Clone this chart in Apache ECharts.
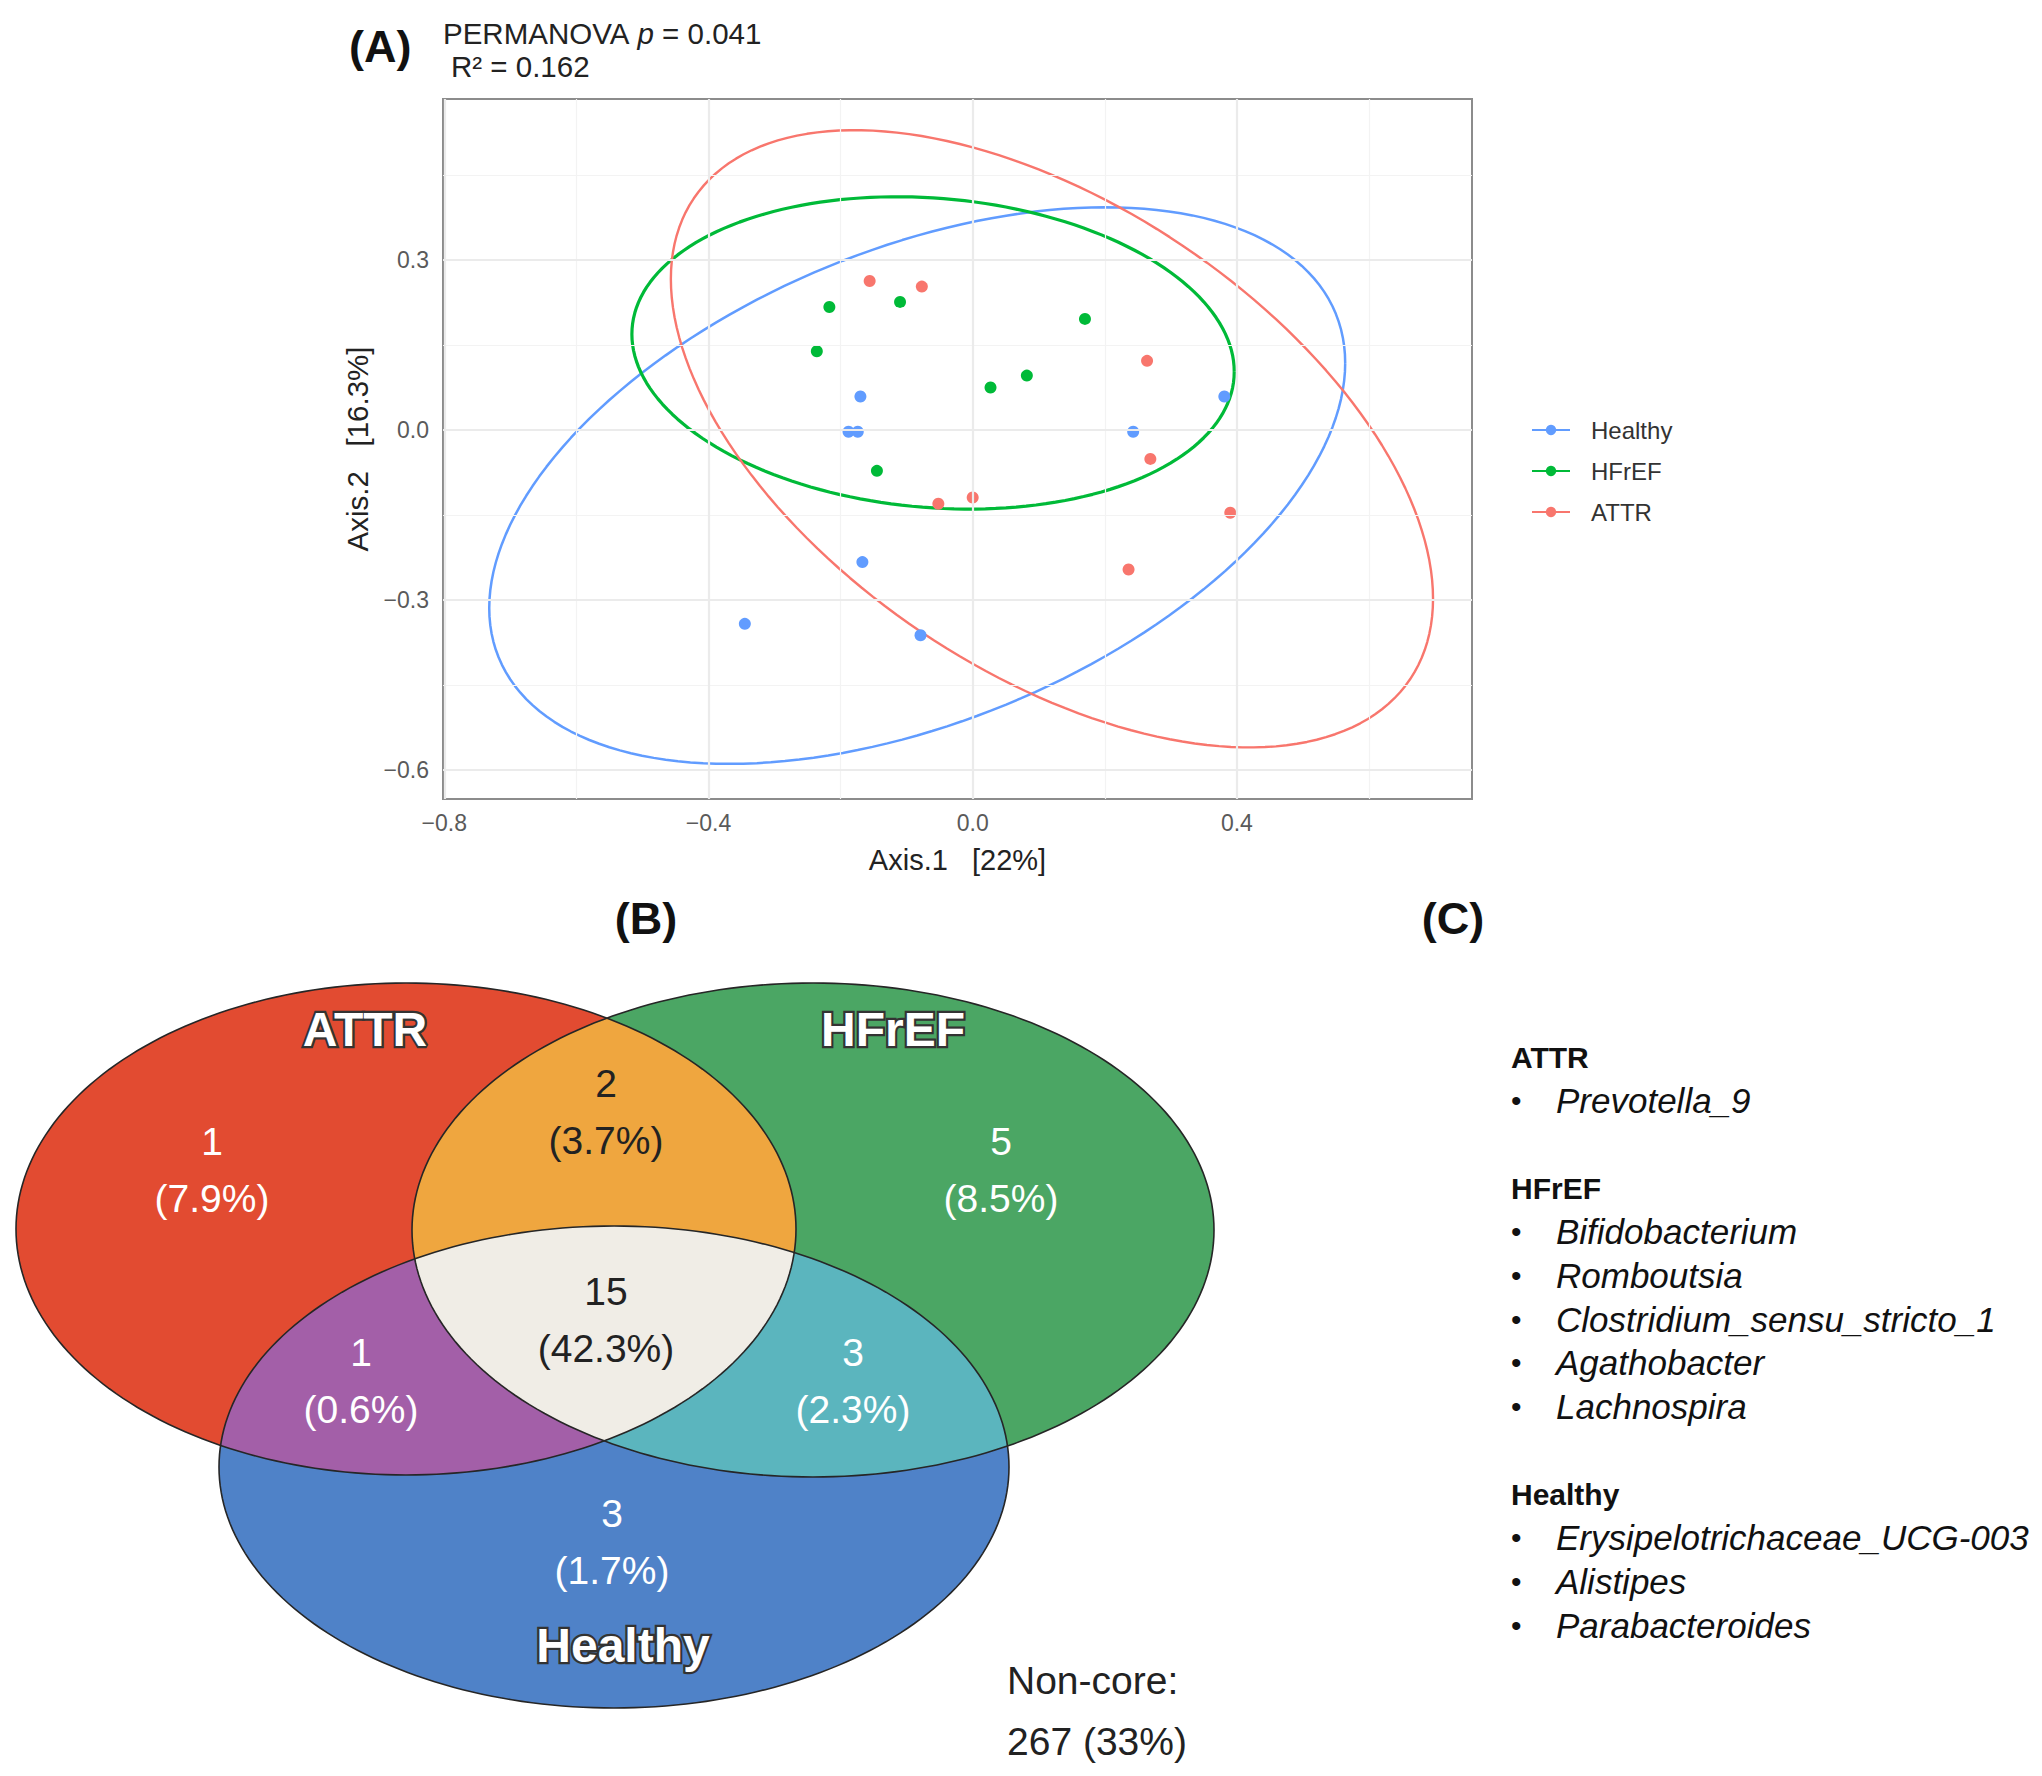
<!DOCTYPE html>
<html><head><meta charset="utf-8">
<script src="https://cdn.jsdelivr.net/npm/echarts@6/dist/echarts.min.js"></script>
<style>html,body{margin:0;padding:0;background:#fff}#c{width:2042px;height:1776px}</style>
</head><body><div id="c"></div>
<script>
// ---------- Panel A: PCoA data ----------
const groups = ['Healthy', 'HFrEF', 'ATTR'];
const groupColors = ['#619CFF', '#00BA38', '#F8766D'];
const healthyX = [-0.170, -0.188, -0.174, 0.243, 0.381, -0.167, -0.345, -0.079];
const healthyY = [0.059, -0.003, -0.003, -0.003, 0.059, -0.233, -0.342, -0.362];
const hfrefX = [-0.217, -0.110, -0.236, 0.170, 0.082, 0.027, -0.145];
const hfrefY = [0.217, 0.226, 0.139, 0.196, 0.096, 0.075, -0.072];
const attrX = [-0.156, -0.077, 0.264, 0.269, -0.052, 0.000, 0.390, 0.236];
const attrY = [0.263, 0.253, 0.122, -0.051, -0.130, -0.119, -0.146, -0.246];
// confidence ellipses (centre, half extents, correlation)
const ellipseCenterX = [-0.084, -0.060, 0.120];
const ellipseCenterY = [-0.098, 0.136, -0.0155];
const ellipseHalfWidth = [0.648, 0.456, 0.577];
const ellipseHalfHeight = [0.491, 0.2755, 0.5445];
const ellipseCorr = [0.44, -0.12, -0.518];
const xTicks = [-0.8, -0.4, 0.0, 0.4];
const xMinor = [-0.6, -0.2, 0.2, 0.6];
const yTicks = [-0.6, -0.3, 0.0, 0.3];
const yMinor = [-0.45, -0.15, 0.15, 0.45];
const permanovaP = '0.041';
const permanovaR2 = '0.162';
const axis1Label = 'Axis.1   [22%]';
const axis2Label = 'Axis.2   [16.3%]';

// ---------- Panel B: Venn data ----------
const vennSets = ['ATTR', 'HFrEF', 'Healthy'];
const vennRegionNames = ['ATTR only', 'ATTR & HFrEF', 'HFrEF only', 'All three', 'ATTR & Healthy', 'HFrEF & Healthy', 'Healthy only'];
const vennCounts = [1, 2, 5, 15, 1, 3, 3];
const vennPercents = ['7.9%', '3.7%', '8.5%', '42.3%', '0.6%', '2.3%', '1.7%'];
const nonCoreCount = 267;
const nonCorePercent = '33%';

// ---------- Panel C: unique genera ----------
const uniqueATTR = ['Prevotella_9'];
const uniqueHFrEF = ['Bifidobacterium', 'Romboutsia', 'Clostridium_sensu_stricto_1', 'Agathobacter', 'Lachnospira'];
const uniqueHealthy = ['Erysipelotrichaceae_UCG-003', 'Alistipes', 'Parabacteroides'];

// ---------- layout (not data) ----------
const FONT = '"Liberation Sans", Arial, Helvetica, sans-serif';
const vennEllipses = [
  { cx: 406, cy: 269, rx: 390, ry: 246 },
  { cx: 813, cy: 270, rx: 401, ry: 247 },
  { cx: 614, cy: 507, rx: 395, ry: 241 }
];
const vennSetFill = ['#E24B31', '#4BA664', '#4F82C8'];
const vennPairFill = { rg: '#EFA63F', rb: '#A35FA8', gb: '#5BB5BE', rgb: '#F0EDE6' };
const vennRegionCenters = [[212, 210], [606, 152], [1001, 210], [606, 360], [361, 421], [853, 421], [612, 582]];
const vennRegionTextColors = ['#ffffff', '#222222', '#ffffff', '#222222', '#ffffff', '#ffffff', '#ffffff'];
const vennSetLabelPos = [[365, 69], [893, 69], [623, 685]];

const pointsX = [healthyX, hfrefX, attrX];
const pointsY = [healthyY, hfrefY, attrY];

function ellipseOutline(g) {
  const pts = [];
  const r = ellipseCorr[g], s = Math.sqrt(1 - r * r);
  for (let d = 0; d <= 360; d += 2) {
    const t = d * Math.PI / 180;
    pts.push([
      ellipseCenterX[g] + ellipseHalfWidth[g] * Math.cos(t),
      ellipseCenterY[g] + ellipseHalfHeight[g] * (r * Math.cos(t) + s * Math.sin(t))
    ]);
  }
  return pts;
}

function vennPoly(e) {
  const pts = [];
  for (let d = 0; d < 360; d += 1.5) {
    const t = d * Math.PI / 180;
    pts.push([e.cx + e.rx * Math.cos(t), e.cy + e.ry * Math.sin(t)]);
  }
  return pts;
}
function clipPoly(subject, clip) {
  let area = 0;
  for (let i = 0; i < clip.length; i++) {
    const a = clip[i], b = clip[(i + 1) % clip.length];
    area += a[0] * b[1] - b[0] * a[1];
  }
  const sgn = area > 0 ? 1 : -1;
  let out = subject;
  for (let i = 0; i < clip.length; i++) {
    const A = clip[i], B = clip[(i + 1) % clip.length];
    const inside = p => sgn * ((B[0] - A[0]) * (p[1] - A[1]) - (B[1] - A[1]) * (p[0] - A[0])) >= 0;
    const inter = (p, q) => {
      const x1 = p[0], y1 = p[1], x2 = q[0], y2 = q[1];
      const x3 = A[0], y3 = A[1], x4 = B[0], y4 = B[1];
      const den = (x1 - x2) * (y3 - y4) - (y1 - y2) * (x3 - x4);
      const t = ((x1 - x3) * (y3 - y4) - (y1 - y3) * (x3 - x4)) / den;
      return [x1 + t * (x2 - x1), y1 + t * (y2 - y1)];
    };
    const input = out; out = [];
    if (!input.length) break;
    for (let j = 0; j < input.length; j++) {
      const P = input[j], Q = input[(j + 1) % input.length];
      const pin = inside(P), qin = inside(Q);
      if (pin) { out.push(P); if (!qin) out.push(inter(P, Q)); }
      else if (qin) { out.push(inter(P, Q)); }
    }
  }
  return out;
}
const ER = vennPoly(vennEllipses[0]), EG = vennPoly(vennEllipses[1]), EB = vennPoly(vennEllipses[2]);
const RG = clipPoly(ER, EG), RB = clipPoly(ER, EB), GB = clipPoly(EG, EB), RGB = clipPoly(RG, EB);
const vennLayers = [
  { poly: ER, fill: vennSetFill[0] }, { poly: EG, fill: vennSetFill[1] }, { poly: EB, fill: vennSetFill[2] },
  { poly: RG, fill: vennPairFill.rg }, { poly: RB, fill: vennPairFill.rb }, { poly: GB, fill: vennPairFill.gb },
  { poly: RGB, fill: vennPairFill.rgb },
  { poly: ER, fill: null }, { poly: EG, fill: null }, { poly: EB, fill: null }
];

const fmtTick = v => (v < 0 ? '\u2212' : '') + Math.abs(v).toFixed(1);

const series = [];
// grid lines
series.push({
  type: 'scatter', name: '_grid', xAxisIndex: 0, yAxisIndex: 0, data: [], silent: true, z: 1,
  markLine: {
    silent: true, symbol: ['none', 'none'], label: { show: false }, animation: false,
    emphasis: { disabled: true },
    data: [].concat(
      xMinor.map(v => ({ xAxis: v, lineStyle: { color: '#F3F3F3', width: 1.2, type: 'solid' } })),
      yMinor.map(v => ({ yAxis: v, lineStyle: { color: '#F3F3F3', width: 1.2, type: 'solid' } })),
      xTicks.map(v => ({ xAxis: v, lineStyle: { color: '#EBEBEB', width: 2.2, type: 'solid' } })),
      yTicks.map(v => ({ yAxis: v, lineStyle: { color: '#EBEBEB', width: 2.2, type: 'solid' } }))
    )
  }
});
const lineWidths = [2.5, 3.2, 2.4];
groups.forEach((g, i) => {
  series.push({
    type: 'line', name: g, xAxisIndex: 0, yAxisIndex: 0, data: ellipseOutline(i),
    symbol: 'circle', symbolSize: 12, showSymbol: false, smooth: false, z: 2,
    lineStyle: { color: groupColors[i], width: lineWidths[i] }, itemStyle: { color: groupColors[i] },
    silent: true
  });
});
groups.forEach((g, i) => {
  series.push({
    type: 'scatter', name: g, xAxisIndex: 0, yAxisIndex: 0, z: 3,
    data: pointsX[i].map((x, k) => [x, pointsY[i][k]]),
    symbol: 'circle', symbolSize: 12, itemStyle: { color: groupColors[i], opacity: 1 }
  });
});
// Venn regions
series.push({
  type: 'custom', name: '_venn', coordinateSystem: 'cartesian2d', xAxisIndex: 1, yAxisIndex: 1,
  data: vennLayers.map((l, i) => [i, 0]), silent: true, z: 2,
  renderItem: function (params, api) {
    const l = vennLayers[params.dataIndex];
    const pts = l.poly.map(p => api.coord(p));
    return {
      type: 'polygon', shape: { points: pts },
      style: l.fill ? { fill: l.fill, stroke: null } : { fill: 'none', stroke: '#262626', lineWidth: 1.6 }
    };
  }
});
// Venn region labels
series.push({
  type: 'scatter', name: '_vennLabels', xAxisIndex: 1, yAxisIndex: 1, z: 5, silent: true,
  symbolSize: 1, itemStyle: { color: 'rgba(0,0,0,0)', opacity: 1 },
  data: vennRegionCenters.map((p, i) => ({
    value: p,
    label: {
      show: true, position: 'inside',
      formatter: vennCounts[i] + '\n(' + vennPercents[i] + ')',
      color: vennRegionTextColors[i], fontSize: 39, lineHeight: 57, fontFamily: FONT, align: 'center',
      textBorderWidth: 0, opacity: 1
    }
  }))
});
// set names: dark outline layer, then white fill layer on top
[{ z: 5, color: '#333333', border: 4.5 }, { z: 6, color: '#ffffff', border: 0 }].forEach(layer => {
  series.push({
    type: 'scatter', name: '_vennSets' + layer.z, xAxisIndex: 1, yAxisIndex: 1, z: layer.z, silent: true,
    symbolSize: 1, itemStyle: { color: 'rgba(0,0,0,0)', opacity: 1 },
    data: vennSetLabelPos.map((p, i) => ({
      value: p,
      label: {
        show: true, position: 'inside', formatter: vennSets[i], opacity: 1,
        color: layer.color, fontSize: 48, fontWeight: 'bold', fontFamily: FONT,
        textBorderColor: '#333333', textBorderWidth: layer.border
      }
    }))
  });
});

// text graphics
const graphics = [];
function addText(x, y, text, opts) {
  graphics.push({
    type: 'text', x: x, y: y, silent: true, z: 10,
    style: Object.assign({
      text: text, fill: '#111', fontFamily: FONT, fontSize: 30,
      textAlign: 'left', align: 'left', textVerticalAlign: 'middle', verticalAlign: 'middle'
    }, opts || {})
  });
}
addText(349, 46, '(A)', { fontSize: 45, fontWeight: 'bold' });
addText(646, 918, '(B)', { fontSize: 45, fontWeight: 'bold', textAlign: 'center', align: 'center' });
addText(1453, 918, '(C)', { fontSize: 45, fontWeight: 'bold', textAlign: 'center', align: 'center' });
graphics.push({
  type: 'text', x: 443, y: 33, silent: true, z: 10,
  style: {
    text: '{n|PERMANOVA }{i|p}{n| = ' + permanovaP + '}',
    textVerticalAlign: 'middle', verticalAlign: 'middle',
    rich: {
      n: { fontSize: 29.5, fontFamily: FONT, fill: '#222', color: '#222' },
      i: { fontSize: 29.5, fontFamily: FONT, fontStyle: 'italic', fill: '#222', color: '#222' }
    }
  }
});
addText(451, 66, 'R\u00B2 = ' + permanovaR2, { fontSize: 29.5, fill: '#222' });
addText(1007, 1680, 'Non-core:', { fontSize: 39, fill: '#222' });
addText(1007, 1741, nonCoreCount + ' (' + nonCorePercent + ')', { fontSize: 39, fill: '#222' });

// Panel C list
const listGroups = [['ATTR', uniqueATTR], ['HFrEF', uniqueHFrEF], ['Healthy', uniqueHealthy]];
let lineIdx = 0;
const lineStep = 43.7, listTop = 1057;
listGroups.forEach(([hdr, items]) => {
  addText(1511, listTop + lineIdx * lineStep, hdr, { fontSize: 30, fontWeight: 'bold', fill: '#111' });
  lineIdx++;
  items.forEach(it => {
    addText(1511, listTop + lineIdx * lineStep, '\u2022', { fontSize: 30, fill: '#111' });
    addText(1556, listTop + lineIdx * lineStep, it, { fontSize: 35, fontStyle: 'italic', fill: '#111' });
    lineIdx++;
  });
  lineIdx++;
});

const chart = echarts.init(document.getElementById('c'), null, { renderer: 'svg', width: 2042, height: 1776 });
chart.setOption({
  animation: false,
  backgroundColor: '#ffffff',
  grid: [
    { left: 443, top: 99, width: 1029, height: 700, show: true, borderColor: '#8C8C8C', borderWidth: 2, backgroundColor: 'transparent', containLabel: false },
    { left: 0, top: 960, width: 1250, height: 816, show: false, containLabel: false }
  ],
  xAxis: [
    {
      type: 'value', gridIndex: 0, min: -0.802, max: 0.756,
      splitLine: { show: false }, axisLine: { show: false },
      axisTick: { show: true, customValues: xTicks, length: 7, lineStyle: { color: '#555', width: 2 } },
      axisLabel: { customValues: xTicks, formatter: fmtTick, color: '#5a5a5a', fontSize: 23, fontFamily: FONT, margin: 12 },
      name: axis1Label, nameLocation: 'middle', nameGap: 46,
      nameTextStyle: { fontSize: 29, color: '#222', fontFamily: FONT }
    },
    { type: 'value', gridIndex: 1, min: 0, max: 1250, show: false }
  ],
  yAxis: [
    {
      type: 'value', gridIndex: 0, min: -0.651, max: 0.584,
      splitLine: { show: false }, axisLine: { show: false },
      axisTick: { show: true, customValues: yTicks, length: 7, lineStyle: { color: '#555', width: 2 } },
      axisLabel: { customValues: yTicks, formatter: fmtTick, color: '#5a5a5a', fontSize: 23, fontFamily: FONT, margin: 14 },
      name: axis2Label, nameLocation: 'middle', nameGap: 65, nameRotate: 90,
      nameTextStyle: { fontSize: 29.5, color: '#222', fontFamily: FONT }
    },
    { type: 'value', gridIndex: 1, min: 0, max: 816, inverse: true, show: false }
  ],
  legend: {
    data: groups, orient: 'vertical', left: 1526, top: 413,
    itemWidth: 38, itemHeight: 13, itemGap: 17,
    textStyle: { fontSize: 24, color: '#333', fontFamily: FONT, padding: [0, 0, 0, 16] },
    selectedMode: false
  },
  series: series,
  graphic: graphics
});
</script>
</body></html>
